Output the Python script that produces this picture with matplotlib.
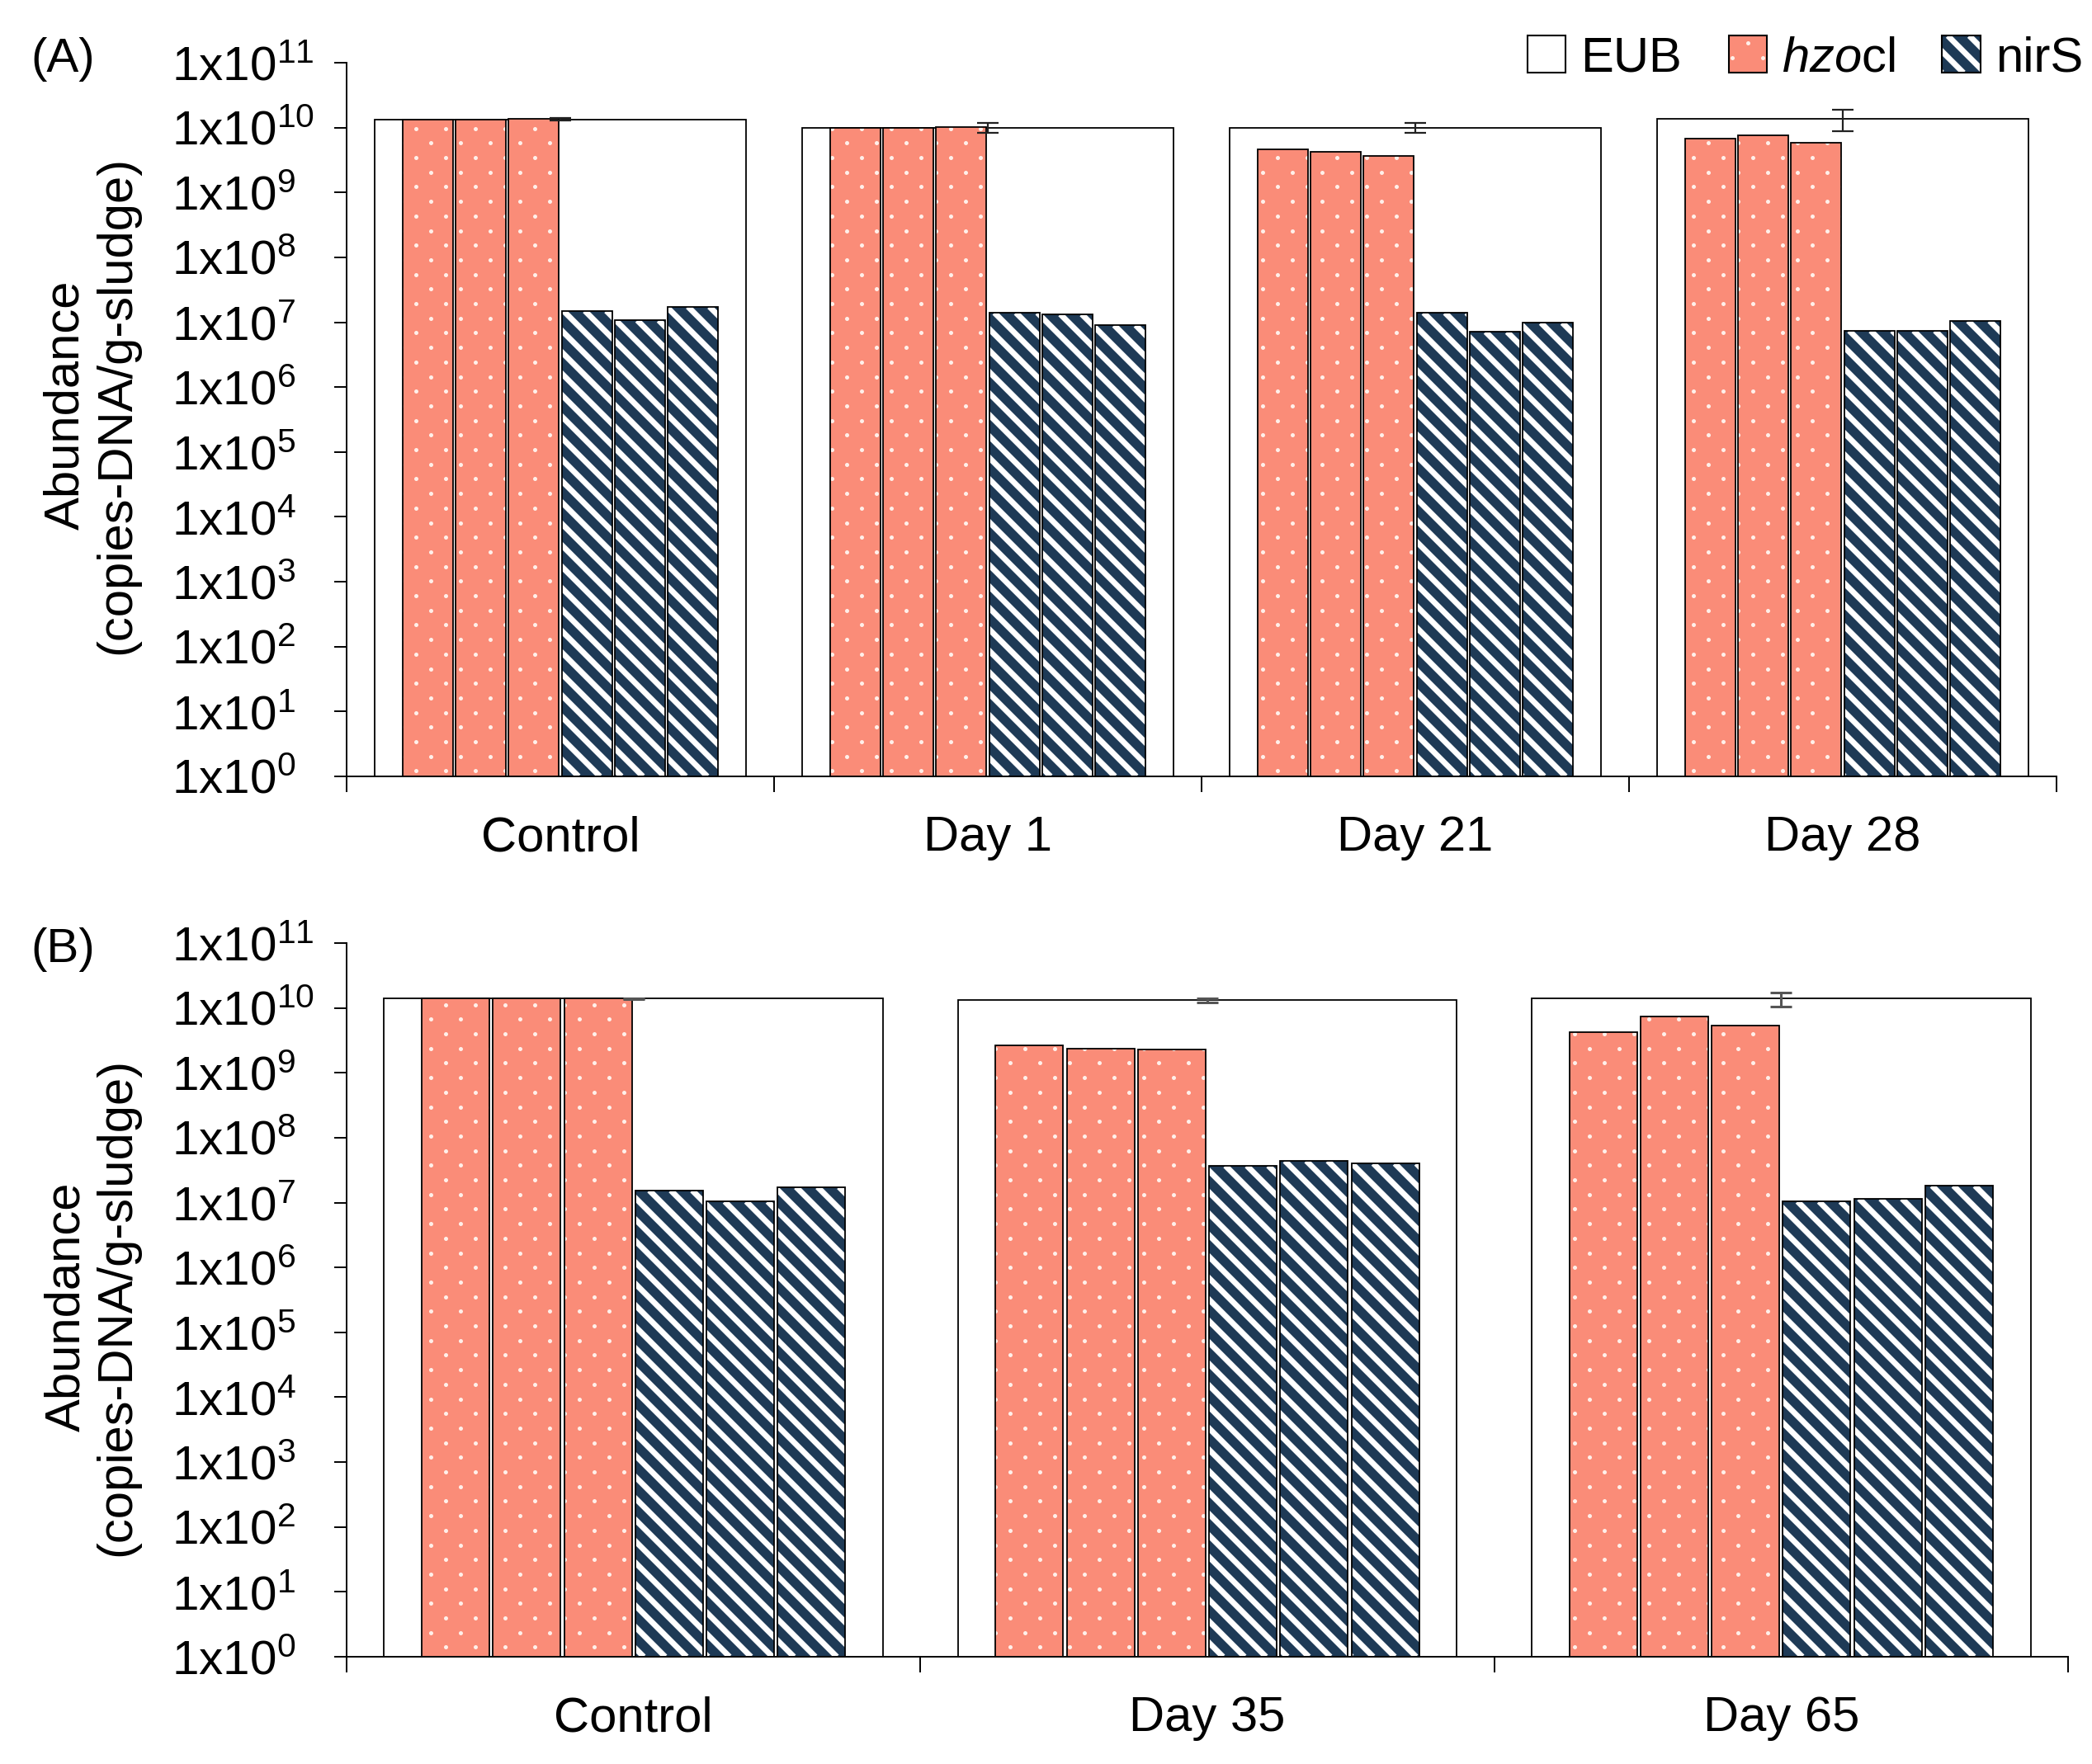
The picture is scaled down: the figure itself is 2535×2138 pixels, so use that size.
import numpy as np
import matplotlib
matplotlib.use('Agg')
import matplotlib.pyplot as plt
from matplotlib.patches import Rectangle
from matplotlib.collections import LineCollection
from matplotlib.lines import Line2D
from matplotlib.legend_handler import HandlerBase
from matplotlib.ticker import NullLocator

plt.rcParams['font.family'] = ['Liberation Sans', 'DejaVu Sans']
plt.rcParams['mathtext.fontset'] = 'custom'
plt.rcParams['mathtext.rm'] = 'Liberation Sans'
plt.rcParams['mathtext.it'] = 'Liberation Sans:italic'
plt.rcParams['font.size'] = 43

# ---- data ----
groups_a = ['Control', 'Day 1', 'Day 21', 'Day 28']
eub_a = [1.34e10, 1.0e10, 1.0e10, 1.38e10]
eub_err_a = [0.05e10, 0.18e10, 0.18e10, 0.5e10]
hzo_a = [[1.34e10, 1.34e10, 1.36e10],
         [1.0e10, 1.0e10, 1.02e10],
         [4.6e9, 4.2e9, 3.7e9],
         [6.8e9, 7.5e9, 5.9e9]]
nirs_a = [[1.5e7, 1.07e7, 1.74e7],
          [1.4e7, 1.33e7, 9.0e6],
          [1.4e7, 7.1e6, 9.8e6],
          [7.4e6, 7.4e6, 1.05e7]]

groups_b = ['Control', 'Day 35', 'Day 65']
eub_b = [1.39e10, 1.31e10, 1.39e10]
eub_err_b = [0.03e10, 0.08e10, 0.35e10]
hzo_b = [[1.39e10, 1.39e10, 1.39e10],
         [2.66e9, 2.38e9, 2.27e9],
         [4.19e9, 7.4e9, 5.36e9]]
nirs_b = [[1.54e7, 1.04e7, 1.74e7],
          [3.7e7, 4.4e7, 4.0e7],
          [1.04e7, 1.15e7, 1.82e7]]

SALMON = '#FA8C78'
NAVY = '#1E3A56'
DOT = '#FFF0EA'

W, H, DPI = 2535, 2138, 100
fig = plt.figure(figsize=(W / DPI, H / DPI), dpi=DPI)

STRIPE_P = 0.26     # inches, horizontal period of stripes
STRIPE_LW = 5.0
DOT_DX, DOT_DY = 0.36, 0.177
DOT_MS = 3.6


def bar_box(bar):
    # bar outline in figure inches, used as a clip rectangle
    bb = bar.get_window_extent()
    x0, x1, y0, y1 = bb.x0 / DPI, bb.x1 / DPI, bb.y0 / DPI, bb.y1 / DPI
    clip = Rectangle((x0, y0), x1 - x0, y1 - y0, transform=fig.dpi_scale_trans)
    return x0, x1, y0, y1, clip


def add_stripes(ax, bar):
    x0, x1, y0, y1, clip = bar_box(bar)
    cs = np.arange(np.floor((x0 + y0) / STRIPE_P) * STRIPE_P, x1 + y1 + STRIPE_P, STRIPE_P)
    segs = [[(c - y0, y0), (c - y1, y1)] for c in cs]
    lc = LineCollection(segs, colors='white', linewidths=STRIPE_LW,
                        transform=fig.dpi_scale_trans, zorder=2.5)
    ax.add_artist(lc)
    lc.set_clip_path(clip)   # after add_artist, which would reset it to the axes patch


def add_dots(ax, bar):
    x0, x1, y0, y1, clip = bar_box(bar)
    xs, ys = [], []
    for j in range(int(np.floor(y0 / DOT_DY)), int(np.ceil(y1 / DOT_DY)) + 1):
        off = (j % 2) * DOT_DX / 2
        for i in range(int(np.floor((x0 - off) / DOT_DX)), int(np.ceil((x1 - off) / DOT_DX)) + 1):
            xs.append(off + i * DOT_DX)
            ys.append(j * DOT_DY)
    ln = Line2D(xs, ys, ls='none', marker='o', ms=DOT_MS, mfc=DOT, mec='none',
                transform=fig.dpi_scale_trans, zorder=2.5)
    ax.add_artist(ln)
    ln.set_clip_path(clip)


def panel(rect, groups, eub, eub_err, hzo, nirs, ecolor, elw):
    ax = fig.add_axes(rect)
    ax.set_yscale('log')
    n = len(groups)
    x = np.arange(n)

    ax.bar(x, np.array(eub) - 1, bottom=1, width=0.87, color='white',
           edgecolor='black', lw=1.3, zorder=1)

    offs = (np.arange(6) - 2.5) * 0.124
    bw = 0.118
    for k in range(3):
        for vals, off, kind in ((hzo, offs[k], 'dots'), (nirs, offs[k + 3], 'stripes')):
            v = np.array([g[k] for g in vals])
            face = SALMON if kind == 'dots' else NAVY
            bars = ax.bar(x + off, v - 1, bottom=1, width=bw, color=face, lw=0, zorder=2)
            ax.set_xlim(-0.5, n - 0.5)
            ax.set_ylim(1, 1e11)
            for b in bars:
                if kind == 'dots':
                    add_dots(ax, b)
                else:
                    add_stripes(ax, b)
            ax.bar(x + off, v - 1, bottom=1, width=bw, fill=False,
                   edgecolor='black', lw=1.3, zorder=3)

    ax.errorbar(x, eub, yerr=eub_err, fmt='none', ecolor=ecolor, elinewidth=elw,
                capsize=9.4, capthick=elw, zorder=4)

    ax.set_xlim(-0.5, n - 0.5)
    ax.set_ylim(1, 1e11)

    for s in ('top', 'right'):
        ax.spines[s].set_visible(False)
    for s in ('left', 'bottom'):
        ax.spines[s].set_linewidth(1.4)

    ax.set_yticks(10.0 ** np.arange(0, 12))
    ax.set_yticklabels([r'$\mathrm{1x10^{%d}}$' % k for k in range(12)])
    ax.yaxis.set_minor_locator(NullLocator())
    ax.tick_params(axis='y', length=10.8, width=1.4, pad=142, labelsize=42)
    for lab in ax.get_yticklabels():
        lab.set_horizontalalignment('left')

    ax.set_xticks(x)
    ax.set_xticklabels(groups)
    ax.set_xticks(np.arange(-0.5, n), minor=True)
    ax.tick_params(axis='x', which='major', length=0, pad=34, labelsize=43)
    ax.tick_params(axis='x', which='minor', length=13.7, width=1.4)

    ax.set_ylabel('Abundance\n(copies-DNA/g-sludge)', fontsize=43, linespacing=1.15)
    ax.yaxis.set_label_coords(-0.121, 0.52)
    return ax


panel([420 / W, 1 - 941 / H, (2492 - 420) / W, 865 / H],
      groups_a, eub_a, eub_err_a, hzo_a, nirs_a, '#222222', 1.6)
ax_b = panel([420 / W, 1 - 2008 / H, (2506 - 420) / W, 865 / H],
             groups_b, eub_b, eub_err_b, hzo_b, nirs_b, '#555555', 2.2)
ax_b.yaxis.set_label_coords(-0.120, 0.49)

fig.text(37 / W, 1 - 72 / H, '(A)', ha='left', va='center', fontsize=42)
fig.text(37 / W, 1 - 1151 / H, '(B)', ha='left', va='center', fontsize=42)


# ---- legend ----
class PatternHandler(HandlerBase):
    def __init__(self, face, kind):
        super().__init__()
        self.face = face
        self.kind = kind

    def create_artists(self, legend, orig_handle, xdescent, ydescent, width, height, fontsize, trans):
        x0, y0 = -xdescent, -ydescent
        rect = Rectangle((x0, y0), width, height, facecolor=self.face, edgecolor='none', transform=trans)
        arts = [rect]
        if self.kind == 'stripes':
            p = STRIPE_P * 72
            cs = np.arange(x0 + y0 - p, x0 + width + y0 + height + p, p)
            segs = [[(c - y0, y0), (c - y0 - height, y0 + height)] for c in cs]
            lc = LineCollection(segs, colors='white', linewidths=STRIPE_LW, transform=trans)
            lc.set_clip_path(Rectangle((x0, y0), width, height, transform=trans))
            arts.append(lc)
        else:
            xs = [x0 + width * 0.5, x0 + width * 0.1, x0 + width * 0.9]
            ys = [y0 + height * 0.8, y0 + height * 0.4, y0 + height * 0.4]
            ln = Line2D(xs, ys, ls='none', marker='o', ms=DOT_MS, mfc=DOT, mec='none', transform=trans)
            arts.append(ln)
        arts.append(Rectangle((x0, y0), width, height, facecolor='none',
                              edgecolor='black', lw=1.5, transform=trans))
        return arts


h_eub = Rectangle((0, 0), 1, 1, facecolor='white', edgecolor='black', lw=1.5)
h_hzo = Rectangle((0, 0), 1, 1, facecolor=SALMON)
h_nir = Rectangle((0, 0), 1, 1, facecolor=NAVY)
fig.legend([h_eub, h_hzo, h_nir], ['EUB', r'$\mathit{hzo}$cl', 'nirS'],
           handler_map={h_hzo: PatternHandler(SALMON, 'dots'),
                        h_nir: PatternHandler(NAVY, 'stripes')},
           loc='center right', bbox_to_anchor=(2524 / W, 1 - 71 / H), ncol=3,
           frameon=False, handlelength=0.78, handleheight=0.78, handletextpad=0.3,
           columnspacing=0.95, borderpad=0, borderaxespad=0, fontsize=43)

fig.savefig('out.png', dpi=DPI)
